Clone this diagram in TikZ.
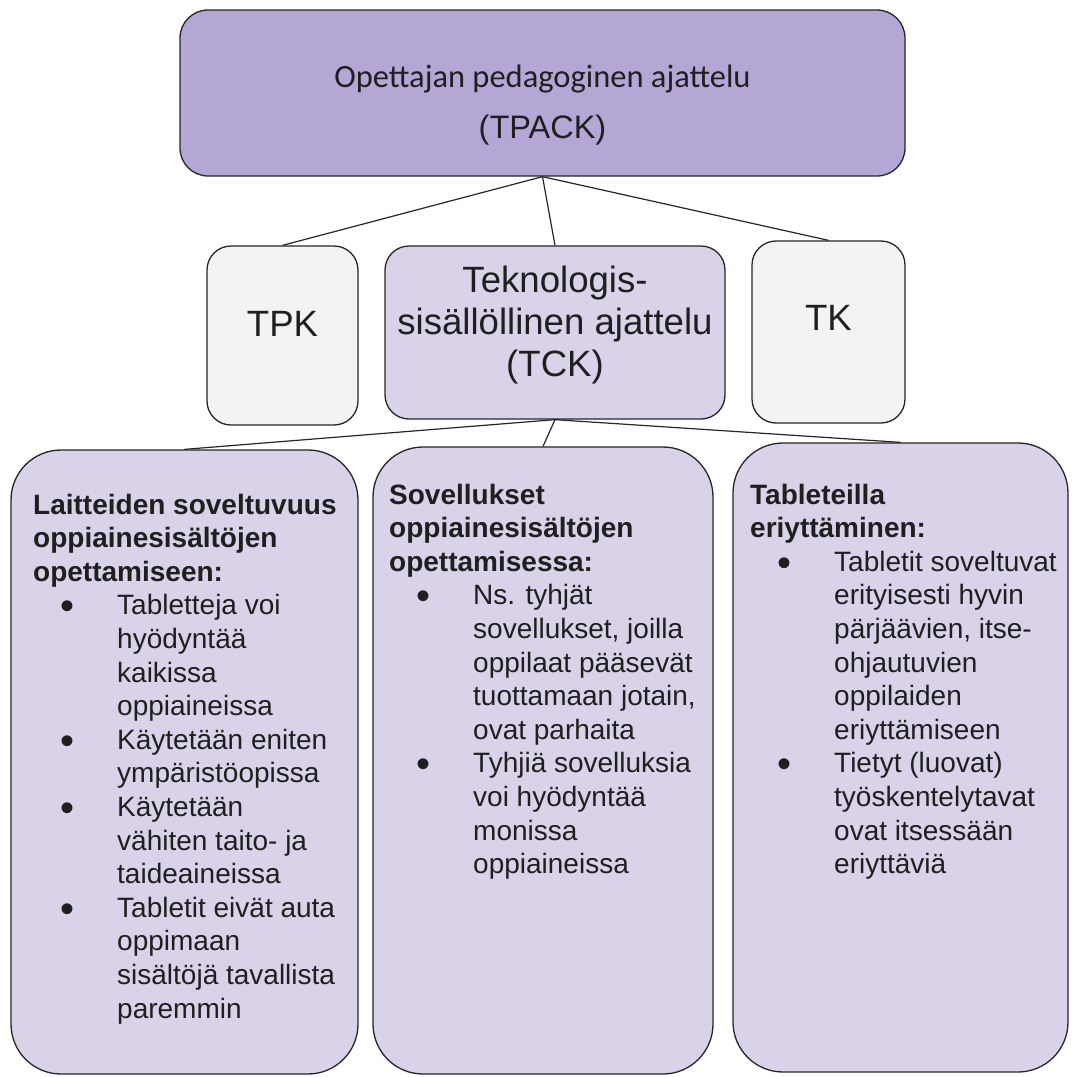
\documentclass[tikz,border=0pt]{standalone}
\usepackage{fontspec}
\setmainfont{Liberation Sans}
\newfontfamily\calibrifont{Carlito}

\definecolor{tpackfill}{HTML}{B4A7D6}
\definecolor{lilac}{HTML}{D9D2E9}
\definecolor{greybox}{HTML}{F3F3F3}
\definecolor{edgeline}{HTML}{262626}

% bullet list helpers for the three lower boxes
\newcommand\lstbullet{\makebox[84pt][l]{\hspace*{27pt}\raisebox{-5pt}{\fontsize{40}{40}\selectfont•}}}
\newcommand\lstcont{\hspace*{84pt}}
\newcommand\columntext[1]{\parbox[t]{340pt}{\raggedright\fontsize{28}{33.6}\selectfont
  \lineskiplimit=-100pt\lineskip=0pt #1}}

\tikzset{
  card/.style={draw=edgeline, line width=1.3pt, inner sep=0pt},
  topcard/.style={card, fill=tpackfill, rounded corners=28pt},
  midcard/.style={card, rounded corners=24pt},
  lowcard/.style={card, fill=lilac, rounded corners=50pt},
  link/.style={draw=edgeline, line width=1.2pt},
  label/.style={inner sep=0pt, text=black!88},
}

\begin{document}
\begin{tikzpicture}[x=1pt, y=-1pt]
\useasboundingbox (0,0) rectangle (1073,1077);
\fill[white] (0,0) rectangle (1073,1077);

% boxes
\node[topcard, minimum width=725pt, minimum height=166pt] (tpack) at (542.5,93) {};
\node[midcard, fill=greybox, minimum width=151pt, minimum height=179pt] (tpk) at (282.5,335.5) {};
\node[midcard, fill=lilac, minimum width=340pt, minimum height=173pt] (tck) at (555,332.5) {};
\node[midcard, fill=greybox, minimum width=153pt, minimum height=182pt] (tk) at (828.5,332) {};
\node[lowcard, minimum width=347pt, minimum height=624pt] (laitteet) at (184.5,762) {};
\node[lowcard, minimum width=340pt, minimum height=627pt] (sovellukset) at (543,760.5) {};
\node[lowcard, minimum width=335pt, minimum height=629pt] (eriyttaminen) at (900.5,757.5) {};

% connectors
\draw[link] (tpack.south) -- (tpk.north);
\draw[link] (tpack.south) -- (tck.north);
\draw[link] (tpack.south) -- (tk.north);
\draw[link] (tck.south) -- (laitteet.north);
\draw[link] (tck.south) -- (sovellukset.north);
\draw[link] (tck.south) -- (eriyttaminen.north);

% headings
\node[label, anchor=base] (tpacktitle) at (542.5,87)
  {\calibrifont\fontsize{32.5}{39}\selectfont Opettajan pedagoginen ajattelu};
\node[label, anchor=base] (tpackabbr) at (542.5,138)
  {\fontsize{32.5}{39}\selectfont (TPACK)};
\node[label, anchor=base] (tpklabel) at (282.5,336)
  {\fontsize{36.6}{44}\selectfont TPK};
\node[label, anchor=base] (tklabel) at (828.5,330)
  {\fontsize{36.6}{44}\selectfont TK};
\node[label, anchor=base] (tcklabel) at (555,292)
  {\parbox[t]{340pt}{\centering\fontsize{36.6}{42}\selectfont\lineskiplimit=-100pt
   Teknologis-\\sisällöllinen ajattelu\\(TCK)}};

% lower box contents
\node[label, anchor=base west] (laitteettext) at (33,514) {\columntext{%
\textbf{Laitteiden soveltuvuus}\\
\textbf{oppiainesisältöjen}\\
\textbf{opettamiseen:}\\
\lstbullet Tabletteja voi\\
\lstcont hyödyntää\\
\lstcont kaikissa\\
\lstcont oppiaineissa\\
\lstbullet Käytetään eniten\\
\lstcont ympäristöopissa\\
\lstbullet Käytetään\\
\lstcont vähiten taito- ja\\
\lstcont taideaineissa\\
\lstbullet Tabletit eivät auta\\
\lstcont oppimaan\\
\lstcont sisältöjä tavallista\\
\lstcont paremmin}};

\node[label, anchor=base west] (sovelluksettext) at (389,504) {\columntext{%
\textbf{Sovellukset}\\
\textbf{oppiainesisältöjen}\\
\textbf{opettamisessa:}\\
\lstbullet Ns. tyhjät\\
\lstcont sovellukset, joilla\\
\lstcont oppilaat pääsevät\\
\lstcont tuottamaan jotain,\\
\lstcont ovat parhaita\\
\lstbullet Tyhjiä sovelluksia\\
\lstcont voi hyödyntää\\
\lstcont monissa\\
\lstcont oppiaineissa}};

\node[label, anchor=base west] (eriyttaminentext) at (750,504) {\columntext{%
\textbf{Tableteilla}\\
\textbf{eriyttäminen:}\\
\lstbullet Tabletit soveltuvat\\
\lstcont erityisesti hyvin\\
\lstcont pärjäävien, itse-\\
\lstcont ohjautuvien\\
\lstcont oppilaiden\\
\lstcont eriyttämiseen\\
\lstbullet Tietyt (luovat)\\
\lstcont työskentelytavat\\
\lstcont ovat itsessään\\
\lstcont eriyttäviä}};
\end{tikzpicture}
\end{document}
